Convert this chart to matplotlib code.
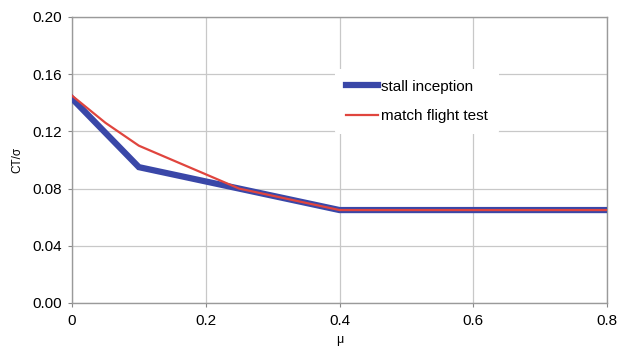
import matplotlib.pyplot as plt

plt.rcParams['font.family'] = ['Liberation Sans', 'DejaVu Sans']

# advance ratio and blade loading for the two boundaries
mu_stall = [0.0, 0.1, 0.25, 0.4, 0.8]
ct_stall = [0.143, 0.095, 0.080, 0.065, 0.065]

mu_match = [0.0, 0.05, 0.1, 0.25, 0.4, 0.8]
ct_match = [0.145, 0.126, 0.110, 0.080, 0.065, 0.065]

x_ticks = [0, 0.2, 0.4, 0.6, 0.8]
x_labels = ['0', '0.2', '0.4', '0.6', '0.8']
y_ticks = [0.00, 0.04, 0.08, 0.12, 0.16, 0.20]


def run():
    fig = plt.figure(figsize=(6.2, 3.52), dpi=100)
    ax = fig.add_axes([72 / 620, 1 - 303 / 352, 535 / 620, 286 / 352])

    ax.plot(mu_stall, ct_stall, color='#3a47a8', lw=4.5, solid_joinstyle='miter',
            label='stall inception', zorder=3)
    ax.plot(mu_match, ct_match, color='#e0453e', lw=1.6, label='match flight test', zorder=4)

    ax.set_xlim(0, 0.8)
    ax.set_ylim(0, 0.2)
    ax.set_xticks(x_ticks)
    ax.set_xticklabels(x_labels)
    ax.set_yticks(y_ticks)
    ax.set_yticklabels([f'{v:.2f}' for v in y_ticks])
    ax.tick_params(labelsize=11, length=3, color='#888888', pad=4)
    ax.tick_params(axis='x', pad=5)

    ax.grid(True, color='#c8c8c8', lw=0.9)
    ax.set_axisbelow(True)
    for s in ax.spines.values():
        s.set_color('#9a9a9a')
        s.set_linewidth(1.0)

    ax.set_xlabel('μ', fontsize=9, labelpad=4)
    ax.set_ylabel('CT/σ', fontsize=8.5, labelpad=7)

    leg = ax.legend(loc='upper left', bbox_to_anchor=(0.478, 0.845), frameon=True,
                    fontsize=11, handlelength=2.1, handletextpad=0.2,
                    labelspacing=1.0, borderpad=0.7)
    leg.get_frame().set_edgecolor('none')
    leg.get_frame().set_facecolor('white')
    leg.get_frame().set_alpha(1.0)

    fig.savefig('out.png', dpi=100)


if __name__ == "__main__":
    run()
